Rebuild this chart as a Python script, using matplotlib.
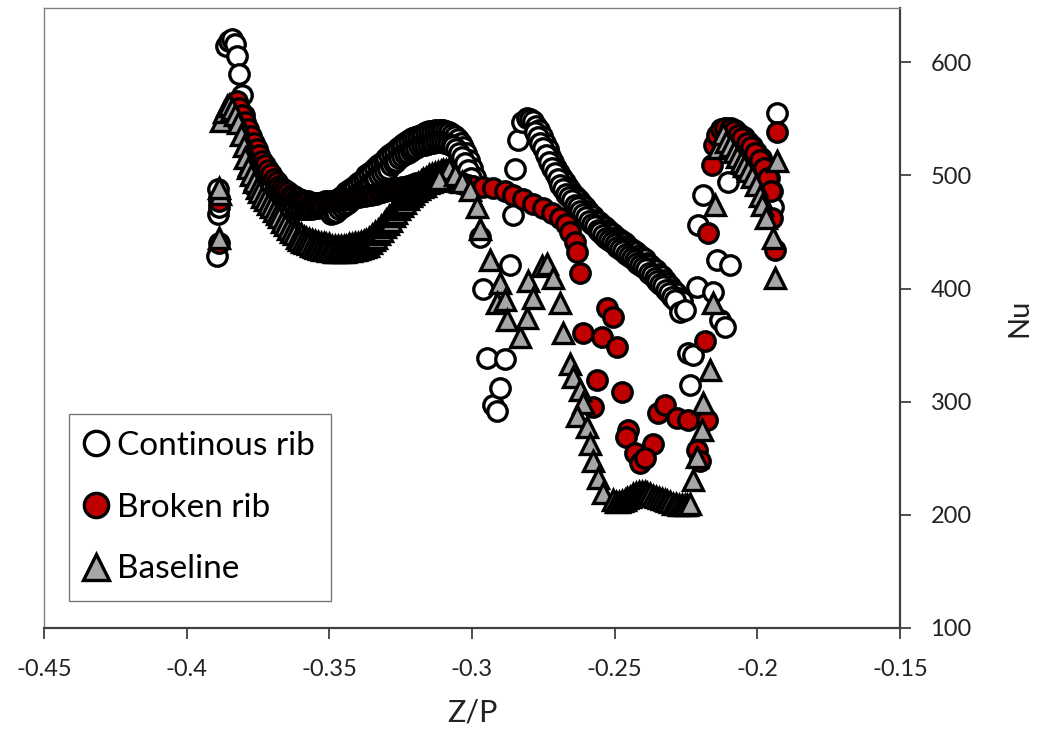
import matplotlib
matplotlib.use('Agg')
from matplotlib import pyplot as plt
import numpy as np

plt.rcParams['font.family'] = ['Lato', 'DejaVu Sans']

# continous rib (open circles)
cont_x = [-0.3893, -0.3891, -0.3888, -0.3886, -0.3889,
          -0.3862, -0.3852, -0.3840, -0.3830, -0.3822, -0.3815, -0.3807, -0.3798,
          -0.379, -0.378, -0.377, -0.376, -0.375, -0.374, -0.373, -0.372, -0.371, -0.370,
          -0.369, -0.368, -0.367, -0.366, -0.365, -0.364, -0.363, -0.362, -0.361, -0.360,
          -0.359, -0.358, -0.357, -0.356, -0.355, -0.354, -0.353, -0.352, -0.351, -0.350,
          -0.349, -0.348, -0.347, -0.346, -0.345, -0.344, -0.343, -0.342, -0.341, -0.340,
          -0.339, -0.338, -0.337, -0.336, -0.335, -0.334, -0.333, -0.332, -0.331, -0.330,
          -0.329, -0.328, -0.327, -0.326, -0.325, -0.324, -0.323, -0.322, -0.321, -0.320,
          -0.319, -0.318, -0.317, -0.316, -0.315, -0.314, -0.313, -0.312, -0.311, -0.310,
          -0.309, -0.308, -0.307, -0.306, -0.305, -0.304, -0.303, -0.302, -0.301, -0.300,
          -0.299,
          -0.3495, -0.3485, -0.3475, -0.3465, -0.3455, -0.3445, -0.3435, -0.3425, -0.3415,
          -0.3405, -0.3395, -0.3385, -0.3375, -0.3365, -0.3355, -0.3345, -0.3335, -0.3325,
          -0.3315, -0.3305, -0.3295, -0.3285, -0.3275, -0.3265, -0.3255, -0.3245, -0.3235,
          -0.3225, -0.3215, -0.3205, -0.3195, -0.3185, -0.3175, -0.3165, -0.3155, -0.3145,
          -0.3135, -0.3125, -0.3115, -0.3105, -0.3095, -0.3085, -0.3075, -0.3065, -0.3055,
          -0.3045, -0.3035, -0.3025, -0.3015, -0.3005,
          -0.2972, -0.2961, -0.2947, -0.2926, -0.2912, -0.2902, -0.2884, -0.2867, -0.2856,
          -0.2849, -0.2839, -0.2825, -0.2807, -0.2795,
          -0.2785, -0.2775, -0.2765, -0.2755, -0.2745, -0.2735, -0.2725, -0.2715, -0.2705,
          -0.2695, -0.2685, -0.2675, -0.2665, -0.2655, -0.2645, -0.2635, -0.2625, -0.2615,
          -0.2605, -0.2595, -0.2585, -0.2575, -0.2565, -0.2555, -0.2545, -0.2535, -0.2525,
          -0.2515, -0.2505, -0.2495, -0.2485, -0.2475, -0.2465, -0.2455, -0.2445, -0.2435,
          -0.2425, -0.2415, -0.2405, -0.2395, -0.2385, -0.2375, -0.2365, -0.2355, -0.2345,
          -0.2335, -0.2325, -0.2315, -0.2305, -0.2295, -0.2285, -0.2275, -0.2265,
          -0.2780, -0.2770, -0.2760, -0.2750, -0.2740, -0.2730, -0.2720, -0.2710, -0.2700,
          -0.2690, -0.2680, -0.2670, -0.2660, -0.2650, -0.2640, -0.2630, -0.2620, -0.2610,
          -0.2600, -0.2590, -0.2580, -0.2570, -0.2560, -0.2550, -0.2540, -0.2530, -0.2520,
          -0.2510, -0.2500, -0.2490, -0.2480, -0.2470, -0.2460, -0.2450, -0.2440, -0.2430,
          -0.2420, -0.2410, -0.2400, -0.2390, -0.2380, -0.2370, -0.2360, -0.2350, -0.2340,
          -0.2330, -0.2320, -0.2310, -0.2300, -0.2290,
          -0.2271, -0.2253, -0.2243, -0.2225, -0.2236, -0.2211, -0.2155, -0.2141, -0.2096,
          -0.2131, -0.2113, -0.2208, -0.2190, -0.2103,
          -0.2135, -0.2122, -0.2108, -0.2093, -0.2078, -0.2063, -0.2048, -0.2033, -0.2018,
          -0.2003, -0.1988, -0.1973, -0.1960, -0.1950, -0.1945, -0.1931]
cont_nu = [429, 466, 472, 480, 488,
           614, 619, 621, 616, 606, 590, 571, 553,
           540, 531, 522, 514, 507, 500, 494, 489, 485, 481,
           479, 477, 475, 474, 473, 472, 471, 471, 470, 470,
           470, 470, 470, 470, 471, 471, 472, 473, 474, 475,
           476, 477, 479, 481, 483, 485, 487, 489, 491, 493,
           495, 497, 500, 502, 504, 507, 509, 511, 513, 515,
           518, 520, 522, 524, 526, 528, 530, 531, 533, 534,
           535, 536, 537, 538, 539, 539, 540, 540, 540, 540,
           539, 538, 537, 535, 532, 529, 525, 520, 514, 507,
           499,
           466, 467, 468, 470, 472, 474, 476, 478, 480,
           482, 484, 486, 488, 491, 493, 495, 498, 500,
           502, 504, 506, 509, 511, 513, 515, 517, 519,
           520, 522, 523, 524, 526, 527, 527, 528, 529,
           529, 530, 530, 530, 529, 528, 527, 526, 523,
           520, 516, 511, 505, 498,
           446, 400, 339, 297, 292, 312, 338, 421, 465,
           506, 531, 547, 551, 550,
           548, 544, 540, 535, 529, 523, 517, 512, 507,
           502, 498, 494, 490, 487, 484, 481, 478, 475,
           472, 469, 466, 464, 461, 459, 456, 454, 452,
           450, 448, 446, 444, 442, 440, 438, 436, 434,
           432, 430, 428, 426, 423, 421, 418, 416, 413,
           411, 408, 405, 402, 399, 396, 392, 389,
           538, 534, 529, 524, 518, 512, 507, 502, 497,
           492, 488, 484, 481, 478, 474, 472, 469, 466,
           463, 460, 457, 455, 452, 450, 447, 445, 443,
           441, 439, 437, 435, 433, 431, 429, 427, 425,
           423, 421, 419, 417, 414, 412, 409, 407, 404,
           402, 399, 396, 393, 390,
           379, 381, 343, 341, 315, 401, 397, 425, 421,
           372, 366, 456, 483, 494,
           530, 538, 542, 542, 540, 537, 534, 530, 526,
           521, 515, 508, 498, 486, 472, 555]

# broken rib (red circles)
brok_x = [-0.3887, -0.3886,
          -0.3825, -0.3815, -0.3805, -0.3795, -0.3785, -0.3775, -0.3765, -0.3755, -0.3745,
          -0.3735, -0.3725, -0.3715, -0.3705, -0.3695, -0.3685, -0.3675, -0.3665, -0.3655,
          -0.3645, -0.3635, -0.3625, -0.3615, -0.3605, -0.3595, -0.3585, -0.3575, -0.3565,
          -0.3555, -0.3545, -0.3535, -0.3525, -0.3515, -0.3505, -0.3495, -0.3485, -0.3475,
          -0.3465, -0.3455, -0.3445, -0.3435, -0.3425, -0.3415, -0.3405, -0.3395, -0.3385,
          -0.3375, -0.3365, -0.3355, -0.3345, -0.3335, -0.3325, -0.3315, -0.3305, -0.3295,
          -0.3285, -0.3275, -0.3265, -0.3255, -0.3245, -0.3235, -0.3225, -0.3215, -0.3205,
          -0.3195, -0.3185, -0.3175, -0.3165, -0.3155, -0.3145, -0.3135, -0.3125, -0.3115,
          -0.3105, -0.3095, -0.3085, -0.3075, -0.3065, -0.3055, -0.3045, -0.3035, -0.3025,
          -0.3015, -0.3005, -0.2995,
          -0.2960, -0.2925, -0.2885, -0.2855, -0.2820, -0.2785, -0.2750, -0.2720, -0.2692,
          -0.2672, -0.2656, -0.2640, -0.2632, -0.2622,
          -0.2527, -0.2506, -0.2611, -0.2544, -0.2492, -0.2562, -0.2474, -0.2576, -0.2348,
          -0.2323, -0.2281, -0.2243, -0.2453, -0.2460, -0.2428, -0.2366, -0.2411, -0.2393,
          -0.2212, -0.2201, -0.2183, -0.2176,
          -0.2173, -0.2158, -0.2150, -0.2140, -0.2127, -0.2112, -0.2097, -0.2082, -0.2067,
          -0.2052, -0.2037, -0.2022, -0.2007, -0.1992, -0.1977, -0.1963, -0.1953, -0.1948,
          -0.1938, -0.1931]
brok_nu = [440, 477,
           566, 560, 553, 547, 541, 535, 529, 523, 518,
           513, 509, 505, 501, 497, 494, 491, 489, 487,
           485, 483, 482, 480, 479, 478, 477, 477, 476,
           476, 476, 476, 476, 477, 477, 477, 477, 478,
           478, 479, 479, 479, 480, 480, 481, 481, 482,
           482, 483, 483, 484, 484, 485, 485, 486, 487,
           487, 488, 489, 489, 490, 490, 491, 492, 492,
           493, 493, 494, 494, 494, 495, 495, 495, 495,
           495, 495, 495, 494, 494, 494, 493, 493, 492,
           492, 491, 491,
           490, 489, 486, 483, 479, 475, 471, 467, 462,
           457, 450, 441, 432, 414,
           383, 375, 361, 357, 348, 319, 309, 295, 290,
           297, 286, 284, 275, 269, 255, 263, 246, 250,
           257, 248, 354, 284,
           449, 509, 527, 536, 541, 542, 541, 539, 536,
           533, 529, 525, 520, 514, 507, 498, 486, 462,
           434, 538]

# baseline (grey triangles)
base_x = [-0.3885, -0.3884, -0.3886,
          -0.3880, -0.3870, -0.3860, -0.3850, -0.3840, -0.3830, -0.3820, -0.3810, -0.3800,
          -0.3790, -0.3780, -0.3770, -0.3760, -0.3750, -0.3740, -0.3730, -0.3720, -0.3710,
          -0.3700, -0.3690, -0.3680, -0.3670, -0.3660, -0.3650, -0.3640, -0.3630, -0.3620,
          -0.3610, -0.3600, -0.3590, -0.3580, -0.3570, -0.3560, -0.3550, -0.3540, -0.3530,
          -0.3520, -0.3510, -0.3500, -0.3490, -0.3480, -0.3470, -0.3460, -0.3450, -0.3440,
          -0.3430, -0.3420, -0.3410, -0.3400, -0.3390, -0.3380, -0.3370, -0.3360, -0.3350,
          -0.3340, -0.3330, -0.3320, -0.3310, -0.3300, -0.3290, -0.3280, -0.3270, -0.3260,
          -0.3250, -0.3240, -0.3230, -0.3220, -0.3210, -0.3200, -0.3190, -0.3180, -0.3170,
          -0.3160, -0.3150, -0.3140, -0.3130, -0.3120, -0.3110, -0.3100, -0.3090, -0.3080,
          -0.3795, -0.3785, -0.3775, -0.3765, -0.3755, -0.3745, -0.3735, -0.3725, -0.3715,
          -0.3705, -0.3695, -0.3685, -0.3675, -0.3665, -0.3655, -0.3645, -0.3635, -0.3625,
          -0.3615, -0.3605, -0.3595, -0.3585, -0.3575, -0.3565, -0.3555, -0.3545, -0.3535,
          -0.3525, -0.3515, -0.3505, -0.3495, -0.3485, -0.3475, -0.3465, -0.3455, -0.3445,
          -0.3435, -0.3425, -0.3415, -0.3405, -0.3395, -0.3385, -0.3375, -0.3365, -0.3355,
          -0.3345, -0.3335, -0.3325, -0.3315, -0.3305, -0.3295, -0.3285, -0.3275, -0.3265,
          -0.3255, -0.3245, -0.3235, -0.3225, -0.3215, -0.3205, -0.3195, -0.3185, -0.3175,
          -0.3165, -0.3155, -0.3145, -0.3135, -0.3125, -0.3115,
          -0.3060, -0.3035, -0.3007, -0.2982, -0.2972, -0.2937,
          -0.2902, -0.2912, -0.2884, -0.2877, -0.2832, -0.2807, -0.2804, -0.2786, -0.2755,
          -0.2737, -0.2716, -0.2691, -0.2681, -0.2656, -0.2646, -0.2621, -0.2611, -0.2632,
          -0.2597, -0.2586, -0.2576, -0.2558, -0.2541,
          -0.2506, -0.2495, -0.2485, -0.2475, -0.2465, -0.2455, -0.2445, -0.2435, -0.2425,
          -0.2415, -0.2405, -0.2395, -0.2385, -0.2375, -0.2365, -0.2355, -0.2345, -0.2335,
          -0.2325, -0.2315, -0.2305, -0.2295, -0.2285, -0.2275, -0.2265, -0.2255, -0.2245,
          -0.2235,
          -0.2225, -0.2211, -0.2194, -0.2190, -0.2166, -0.2155, -0.2148, -0.2138, -0.2120,
          -0.2108, -0.2095, -0.2083, -0.2071, -0.2058, -0.2045, -0.2032, -0.2018, -0.2005,
          -0.1992, -0.1984, -0.1970, -0.1945, -0.1938, -0.1931]
base_nu = [445, 484, 489,
           548, 556, 561, 562, 559, 553, 546, 536, 526,
           517, 509, 502, 497, 493, 489, 486, 483, 479,
           476, 473, 470, 467, 463, 460, 457, 455, 452,
           450, 448, 446, 445, 444, 443, 442, 441, 440,
           440, 439, 439, 438, 438, 438, 438, 438, 438,
           439, 439, 440, 440, 441, 442, 443, 445, 447,
           450, 452, 455, 458, 461, 464, 467, 471, 474,
           477, 480, 483, 486, 488, 491, 493, 495, 497,
           498, 500, 501, 502, 503, 504, 505, 505, 506,
           515, 507, 500, 494, 489, 485, 481, 478, 475,
           472, 469, 466, 463, 459, 456, 453, 450, 448,
           445, 443, 441, 440, 439, 438, 437, 436, 435,
           434, 434, 433, 433, 432, 432, 432, 432, 432,
           433, 433, 434, 434, 435, 436, 437, 438, 440,
           443, 445, 448, 451, 454, 457, 460, 464, 467,
           470, 473, 476, 479, 482, 484, 486, 488, 490,
           491, 493, 494, 495, 496, 497,
           500, 494, 487, 472, 453, 425,
           405, 387, 390, 372, 357, 374, 407, 392, 420,
           422, 409, 387, 361, 333, 322, 310, 299, 287,
           278, 263, 248, 233, 219,
           213, 211, 211, 212, 213, 215, 216, 218, 219,
           220, 220, 220, 219, 218, 217, 216, 215, 214,
           213, 212, 211, 210, 210, 209, 209, 209, 209,
           210,
           231, 251, 275, 299, 328, 387, 474, 524, 537,
           530, 526, 521, 516, 512, 508, 504, 499, 492,
           482, 474, 462, 445, 409, 513]

x_ticks = [-0.45, -0.4, -0.35, -0.3, -0.25, -0.2, -0.15]
x_labels = ['-0.45', '-0.4', '-0.35', '-0.3', '-0.25', '-0.2', '-0.15']
y_ticks = [100, 200, 300, 400, 500, 600]

fig = plt.figure(figsize=(10.45, 7.35), dpi=100)
ax = fig.add_axes([0.0421, 0.1456, 0.8191, 0.8435])

ax.plot(cont_x, cont_nu, 'o', ms=14, mfc='white', mec='black', mew=2.4,
        label='Continous rib')
ax.plot(brok_x, brok_nu, 'o', ms=14, mfc='#C00000', mec='black', mew=2.4,
        label='Broken rib')
ax.plot(base_x, base_nu, '^', ms=15, mfc='#A6A6A6', mec='black', mew=2.4,
        label='Baseline')

ax.set_xlim(-0.45, -0.15)
ax.set_ylim(100, 648)
ax.set_xticks(x_ticks)
ax.set_xticklabels(x_labels)
ax.set_yticks(y_ticks)

ax.yaxis.tick_right()
ax.yaxis.set_label_position('right')
ax.tick_params(axis='x', direction='out', length=8, width=1.3, color='#404040',
               labelsize=17, pad=14, labelcolor='#222222')
ax.tick_params(axis='y', direction='out', length=8, width=1.3, color='#404040',
               labelsize=17, pad=14, labelcolor='#222222')

for side in ['bottom', 'right']:
    ax.spines[side].set_color('#404040')
    ax.spines[side].set_linewidth(1.6)
for side in ['top', 'left']:
    ax.spines[side].set_color('#808080')
    ax.spines[side].set_linewidth(1.0)

ax.set_xlabel('Z/P', fontsize=22, color='#222222', labelpad=14)
ax.set_ylabel('Nu', fontsize=21, color='#222222', labelpad=25)

leg = ax.legend(loc='lower left', bbox_to_anchor=(0.029, 0.0435), borderaxespad=0,
                fontsize=24, frameon=True, fancybox=False, handletextpad=0.29,
                handlelength=0.65, labelspacing=0.95, borderpad=0.5, markerscale=1.25)
leg.get_frame().set_edgecolor('#555555')
leg.get_frame().set_linewidth(1.0)

fig.savefig('out.png', dpi=100)
